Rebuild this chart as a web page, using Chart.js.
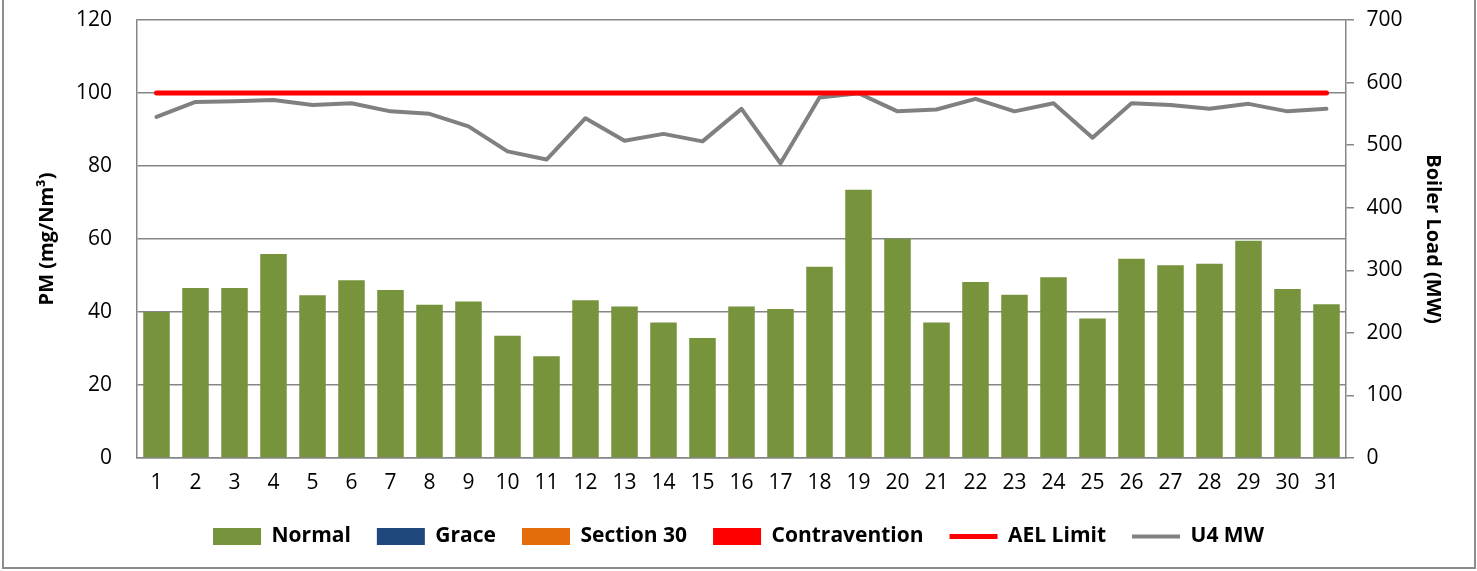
<!DOCTYPE html>
<html>
<head>
<meta charset="utf-8">
<script src="https://cdn.jsdelivr.net/npm/chart.js@4/dist/chart.umd.min.js"></script>
<style>
    html, body { margin: 0; padding: 0; background: #fff; }
    #wrap { width: 1477px; height: 571px; position: relative; }
</style>
</head>
<body>
<div id="wrap"><canvas id="pmChart" width="1477" height="571"></canvas></div>
<script>
// Days of the month
const days = ['1', '2', '3', '4', '5', '6', '7', '8', '9', '10', '11', '12', '13', '14', '15', '16',
    '17', '18', '19', '20', '21', '22', '23', '24', '25', '26', '27', '28', '29', '30', '31'];

// PM daily averages (mg/Nm³) - all in the "Normal" band
const normalPM = [40.0, 46.6, 46.6, 55.9, 44.6, 48.7, 46.0, 42.0, 42.9, 33.5, 27.9, 43.2, 41.5, 37.1, 32.9, 41.5,
    40.8, 52.4, 73.5, 60.1, 37.1, 48.2, 44.7, 49.5, 38.2, 54.6, 52.8, 53.2, 59.5, 46.3, 42.1];
const gracePM = [];
const section30PM = [];
const contraventionPM = [];

// Emission limit (mg/Nm³)
const aelLimit = days.map(() => 100);

// Unit 4 boiler load (MW)
const u4MW = [545, 569, 570, 572, 564, 567, 554, 550, 530, 490, 477, 543, 507, 518, 506, 558,
    471, 576, 583, 554, 557, 574, 554, 567, 512, 567, 564, 558, 566, 554, 558];

// Tick labels
const pmTicks = [0, 20, 40, 60, 80, 100, 120];
const mwTicks = [0, 100, 200, 300, 400, 500, 600, 700];

const GRID = '#868686';
const FONT = 'Open Sans';

/**
 * Gray frame round the picture (left, right and bottom)
 */
const framePlugin = {
    id: 'frame',
    afterDraw(chart) {
        const ctx = chart.ctx;
        ctx.save();
        ctx.strokeStyle = '#8c8c8c';
        ctx.lineWidth = 2;
        ctx.beginPath();
        ctx.moveTo(3, 0);
        ctx.lineTo(3, 568);
        ctx.lineTo(1475, 568);
        ctx.lineTo(1475, 0);
        ctx.stroke();
        ctx.restore();
    }
};

function barSet(label, data, color) {
    return {
        type: 'bar',
        label: label,
        data: data,
        backgroundColor: color,
        borderWidth: 0,
        grouped: false,
        barPercentage: 0.85,
        categoryPercentage: 0.8,
        pointStyle: 'rect',
        yAxisID: 'y',
        order: 3
    };
}

const ctx = document.getElementById('pmChart').getContext('2d');

new Chart(ctx, {
    data: {
        labels: days,
        datasets: [
            barSet('Normal', normalPM, '#77933C'),
            barSet('Grace', gracePM, '#1F497D'),
            barSet('Section 30', section30PM, '#E46C0A'),
            barSet('Contravention', contraventionPM, '#FF0000'),
            {
                type: 'line',
                label: 'AEL Limit',
                data: aelLimit,
                borderColor: '#FF0000',
                backgroundColor: '#FF0000',
                borderWidth: 5,
                borderCapStyle: 'round',
                pointRadius: 0,
                pointStyle: 'line',
                yAxisID: 'y',
                order: 1
            },
            {
                type: 'line',
                label: 'U4 MW',
                data: u4MW,
                borderColor: '#808080',
                backgroundColor: '#808080',
                borderWidth: 4,
                borderCapStyle: 'round',
                borderJoinStyle: 'round',
                pointRadius: 0,
                pointStyle: 'line',
                tension: 0,
                yAxisID: 'y1',
                order: 2
            }
        ]
    },
    options: {
        responsive: false,
        animation: false,
        layout: { padding: { top: 20, left: 0, right: 0, bottom: 14 } },
        plugins: {
            tooltip: { enabled: false },
            legend: {
                position: 'bottom',
                labels: {
                    usePointStyle: true,
                    pointStyleWidth: 48,
                    boxHeight: 17,
                    padding: 26,
                    color: '#000',
                    font: { family: FONT, size: 21, weight: 'bold' },
                    sort: (a, b) => a.datasetIndex - b.datasetIndex
                }
            }
        },
        scales: {
            x: {
                grid: { display: false, drawTicks: false },
                border: { display: true, color: GRID, width: 1.5 },
                ticks: {
                    color: '#000',
                    padding: 12,
                    maxRotation: 0,
                    autoSkip: false,
                    font: { family: FONT, size: 21 }
                },
                afterFit: scale => { scale.height = 42; }
            },
            y: {
                position: 'left',
                min: 0,
                max: 120,
                afterBuildTicks: scale => { scale.ticks = pmTicks.map(v => ({ value: v })); },
                // invisible tick marks keep the labels clear of the axis
                grid: { color: GRID, lineWidth: 1.5, drawTicks: true, tickLength: 25, tickColor: 'rgba(0,0,0,0)' },
                border: { display: true, color: GRID, width: 1.5 },
                ticks: {
                    color: '#000',
                    padding: 0,
                    font: { family: FONT, size: 21 }
                },
                title: {
                    display: true,
                    text: 'PM (mg/Nm³)',
                    color: '#000',
                    padding: { top: 35, bottom: 0 },
                    font: { family: FONT, size: 20, weight: 'bold' }
                },
                afterFit: scale => { scale.width = 137; }
            },
            y1: {
                position: 'right',
                min: 0,
                max: 700,
                afterBuildTicks: scale => { scale.ticks = mwTicks.map(v => ({ value: v })); },
                grid: { drawOnChartArea: false, color: GRID, lineWidth: 1.5, tickLength: 8 },
                border: { display: true, color: GRID, width: 1.5 },
                ticks: {
                    color: '#000',
                    padding: 7,
                    font: { family: FONT, size: 21 },
                    callback: v => ' ' + v
                },
                title: {
                    display: true,
                    text: 'Boiler Load (MW)',
                    color: '#000',
                    padding: { top: 32, bottom: 0 },
                    font: { family: FONT, size: 20, weight: 'bold' }
                },
                afterFit: scale => { scale.width = 131; }
            }
        }
    },
    plugins: [framePlugin]
});
</script>
</body>
</html>
